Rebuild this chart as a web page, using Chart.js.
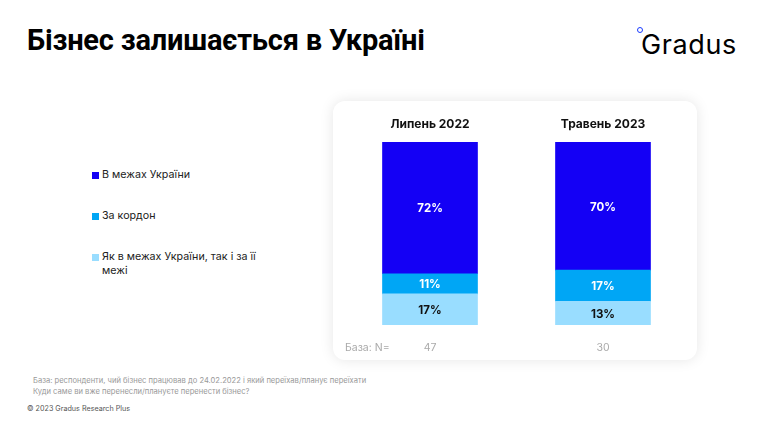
<!DOCTYPE html>
<html lang="uk">
<head>
<meta charset="utf-8">
<script src="https://cdn.jsdelivr.net/npm/chart.js@4.4.0/dist/chart.umd.min.js"></script>
<style>
  html, body { margin: 0; padding: 0; background: #fff; }
  body { width: 764px; height: 427px; position: relative; overflow: hidden; font-family: "Inter", "Noto Sans", sans-serif; }
  #title { position: absolute; left: 27px; top: 23px; font: bold 29px "Roboto", sans-serif; color: #000; letter-spacing: -0.2px; }
  #logo { position: absolute; left: 641px; top: 28px; font: 27px "Inter", sans-serif; color: #000; letter-spacing: 0.6px; }
  #logo .dot { position: absolute; left: -4px; top: -1px; width: 4px; height: 4px; border: 1.6px solid #1a3cff; border-radius: 50%; }
  #card { position: absolute; left: 333px; top: 101px; width: 364px; height: 259px; background: #fff; border-radius: 12px;
          box-shadow: 0 0 14px rgba(0,0,0,0.10); }
  #chartWrap { position: absolute; left: 0; top: 0; width: 364px; height: 259px; }
  #legend { position: absolute; left: 92px; top: 168px; width: 175px; font-size: 10.7px; color: #222; }
  .item { position: absolute; left: 0; display: flex; align-items: flex-start; line-height: 14px; }
  .item .txt { width: 165px; }
  .sw { width: 7px; height: 7px; margin: 3.5px 3px 0 0; flex: none; }
  #notes { position: absolute; left: 33px; top: 375px; font-size: 7.6px; color: #999; line-height: 11px; }
  #copy { position: absolute; left: 27px; top: 404px; font-size: 7.2px; color: #555; }
</style>
</head>
<body>
<div id="title">Бізнес залишається в Україні</div>
<div id="logo"><span class="dot"></span>Gradus</div>
<div id="legend"></div>
<div id="card"><div id="chartWrap"><canvas id="chart"></canvas></div></div>
<div id="notes">База: респонденти, чий бізнес працював до 24.02.2022 і який переїхав/планує переїхати<br>Куди саме ви вже перенесли/плануєте перенести бізнес?</div>
<div id="copy">© 2023 Gradus Research Plus</div>
<script>
const periods = ['Липень 2022', 'Травень 2023'];
const baseN = [47, 30];
const seriesNames = ['В межах України', 'За кордон', 'Як в межах України, так і за її межі'];
const insideUkraine = [72, 70];
const abroad = [11, 17];
const both = [17, 13];
const seriesColors = ['#1400f5', '#00a6f5', '#99ddff'];
const labelColors = ['#ffffff', '#ffffff', '#111111'];

// legend (top to bottom, same order as the stack from top)
const legendTops = [0, 41, 82];
const legend = document.getElementById('legend');
seriesNames.forEach((name, i) => {
  const el = document.createElement('div');
  el.className = 'item';
  el.style.top = legendTops[i] + 'px';
  el.innerHTML = '<span class="sw" style="background:' + seriesColors[i] + '"></span><span class="txt">' + name + '</span>';
  legend.appendChild(el);
});

// percentages inside segments, period names above bars, N row below
const labelsPlugin = {
  id: 'labels',
  afterDatasetsDraw(chart) {
    const ctx = chart.ctx;
    ctx.save();
    ctx.textAlign = 'center';
    ctx.textBaseline = 'middle';
    chart.data.datasets.forEach((ds, di) => {
      chart.getDatasetMeta(di).data.forEach((bar, i) => {
        const mid = (bar.y + bar.base) / 2;
        ctx.fillStyle = ds.labelColor;
        ctx.font = 'bold 11.5px Inter, sans-serif';
        ctx.fillText(ds.data[i] + '%', bar.x, mid + 1);
      });
    });
    const xs = chart.scales.x;
    periods.forEach((p, i) => {
      const x = xs.getPixelForValue(i);
      ctx.fillStyle = '#111';
      ctx.font = 'bold 12px Inter, sans-serif';
      ctx.fillText(p, x, 23);
      ctx.fillStyle = '#aaa';
      ctx.font = '10.5px Inter, sans-serif';
      ctx.fillText(String(baseN[i]), x, 247);
    });
    ctx.textAlign = 'left';
    ctx.fillText('База: N=', 12, 247);
    ctx.restore();
  }
};

new Chart(document.getElementById('chart'), {
  type: 'bar',
  data: {
    labels: periods,
    datasets: [
      { label: seriesNames[2], data: both, backgroundColor: seriesColors[2], labelColor: labelColors[2] },
      { label: seriesNames[1], data: abroad, backgroundColor: seriesColors[1], labelColor: labelColors[1] },
      { label: seriesNames[0], data: insideUkraine, backgroundColor: seriesColors[0], labelColor: labelColors[0] }
    ]
  },
  options: {
    responsive: true,
    maintainAspectRatio: false,
    animation: false,
    layout: { padding: { top: 41, bottom: 35, left: 10.5, right: 7.5 } },
    datasets: { bar: { barThickness: 95, borderWidth: 0 } },
    scales: {
      x: { stacked: true, display: false },
      y: { stacked: true, display: false, min: 0, max: 100 }
    },
    plugins: { legend: { display: false }, tooltip: { enabled: false } }
  },
  plugins: [labelsPlugin]
});
</script>
</body>
</html>
